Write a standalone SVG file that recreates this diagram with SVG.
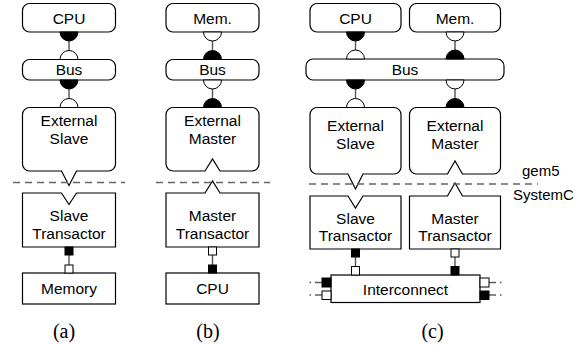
<svg xmlns="http://www.w3.org/2000/svg" width="586" height="345" viewBox="0 0 586 345">
<style>
.box{fill:#fff;stroke:#000;stroke-width:1.2}
.t{font-family:"Liberation Sans",Arial,sans-serif;font-size:15.5px;fill:#000;text-anchor:middle}
.side{font-family:"Liberation Sans",Arial,sans-serif;font-size:15px;fill:#000}
.cap{font-family:"Liberation Serif","Times New Roman",serif;font-size:20px;fill:#000;text-anchor:middle}
.wire{stroke:#555;stroke-width:1.4;fill:none}
.pf{fill:#000;stroke:#000;stroke-width:1}
.po{fill:#fff;stroke:#000;stroke-width:1}
.dash{stroke:#666;stroke-width:1.3;stroke-dasharray:7 5;fill:none}
</style>
<rect width="586" height="345" fill="#fff"/>

<!-- Panel (a) -->
<g id="a-cpu"><rect class="box" x="22.5" y="3.5" width="93" height="28.5" rx="7"/><text class="t" x="69" y="24">CPU</text></g>
<g id="a-bus"><rect class="box" x="22.5" y="59.5" width="93" height="20.5" rx="7"/><text class="t" x="69" y="75">Bus</text></g>
<g id="a-extslave"><path class="box" d="M29.5 107.5H108.5A7 7 0 0 1 115.5 114.5V164A7 7 0 0 1 108.5 171H76.5L69 185.5L61.5 171H29.5A7 7 0 0 1 22.5 164V114.5A7 7 0 0 1 29.5 107.5Z"/><text class="t" x="69" y="126">External</text><text class="t" x="69" y="144">Slave</text></g>
<g id="a-slavetrans"><path class="box" d="M22.5 193H61.5L69 204.5L76.5 193H115.5V247H22.5Z"/><text class="t" x="69" y="221">Slave</text><text class="t" x="69" y="239">Transactor</text></g>
<g id="a-memory"><rect class="box" x="22.5" y="273" width="93" height="31"/><text class="t" x="69" y="294">Memory</text></g>

<!-- Panel (b) -->
<g id="b-mem"><rect class="box" x="166" y="3.5" width="93" height="28.5" rx="7"/><text class="t" x="212.5" y="24">Mem.</text></g>
<g id="b-bus"><rect class="box" x="166" y="59.5" width="93" height="20.5" rx="7"/><text class="t" x="212.5" y="75">Bus</text></g>
<g id="b-extmaster"><path class="box" d="M173 107.5H252A7 7 0 0 1 259 114.5V164A7 7 0 0 1 252 171H220L212.5 159L205 171H173A7 7 0 0 1 166 164V114.5A7 7 0 0 1 173 107.5Z"/><text class="t" x="212.5" y="126">External</text><text class="t" x="212.5" y="144">Master</text></g>
<g id="b-mastertrans"><path class="box" d="M166 193H205L212.5 181L220 193H259V247H166Z"/><text class="t" x="212.5" y="221">Master</text><text class="t" x="212.5" y="239">Transactor</text></g>
<g id="b-cpu"><rect class="box" x="166" y="273" width="93" height="31"/><text class="t" x="212.5" y="294">CPU</text></g>

<!-- Panel (c) -->
<g id="c-cpu"><rect class="box" x="310" y="3.5" width="91" height="28.5" rx="7"/><text class="t" x="355.5" y="24">CPU</text></g>
<g id="c-mem"><rect class="box" x="409.5" y="3.5" width="91" height="28.5" rx="7"/><text class="t" x="455" y="24">Mem.</text></g>
<g id="c-bus"><rect class="box" x="306" y="59" width="198" height="21" rx="7"/><text class="t" x="405" y="75">Bus</text></g>
<g id="c-extslave"><path class="box" d="M317 107.5H394A7 7 0 0 1 401 114.5V167A7 7 0 0 1 394 174H363L355.5 189L348 174H317A7 7 0 0 1 310 167V114.5A7 7 0 0 1 317 107.5Z"/><text class="t" x="355.5" y="131">External</text><text class="t" x="355.5" y="149">Slave</text></g>
<g id="c-extmaster"><path class="box" d="M416.5 107.5H493.5A7 7 0 0 1 500.5 114.5V167A7 7 0 0 1 493.5 174H462.5L455 161L447.5 174H416.5A7 7 0 0 1 409.5 167V114.5A7 7 0 0 1 416.5 107.5Z"/><text class="t" x="455" y="131">External</text><text class="t" x="455" y="149">Master</text></g>
<g id="c-slavetrans"><path class="box" d="M310 196H348L355.5 208L363 196H401V249H310Z"/><text class="t" x="355.5" y="223.5">Slave</text><text class="t" x="355.5" y="241">Transactor</text></g>
<g id="c-mastertrans"><path class="box" d="M409.5 196H447.5L455 183L462.5 196H500.5V249H409.5Z"/><text class="t" x="455" y="223.5">Master</text><text class="t" x="455" y="241">Transactor</text></g>
<g id="c-interconnect"><rect class="box" x="331" y="275" width="149" height="27.5"/><text class="t" x="405.5" y="294.5">Interconnect</text></g>

<!-- Boundary -->
<g id="boundary">
<line class="dash" x1="13" y1="182.5" x2="125" y2="182.5"/>
<line class="dash" x1="156" y1="182.5" x2="270" y2="182.5"/>
<line class="dash" x1="309" y1="184" x2="538" y2="184"/>
<text class="side" x="522" y="176">gem5</text>
<text class="side" x="513" y="200">SystemC</text>
</g>

<!-- Connectors -->
<g id="connectors">
<!-- (a) -->
<line class="wire" x1="69" y1="41" x2="69" y2="50.5"/>
<line class="wire" x1="69" y1="89" x2="69" y2="98.5"/>
<path class="pf" d="M60 32A9 9 0 0 0 78 32Z"/>
<path class="po" d="M60 59.5A9 9 0 0 1 78 59.5Z"/>
<path class="pf" d="M60 80A9 9 0 0 0 78 80Z"/>
<path class="po" d="M60 107.5A9 9 0 0 1 78 107.5Z"/>
<line class="wire" x1="69" y1="255" x2="69" y2="265"/>
<rect class="pf" x="65" y="247" width="8" height="8"/>
<rect class="po" x="65" y="265" width="8" height="8"/>
<!-- (b) -->
<line class="wire" x1="212.5" y1="41" x2="212.5" y2="50.5"/>
<line class="wire" x1="212.5" y1="89" x2="212.5" y2="98.5"/>
<path class="po" d="M203.5 32A9 9 0 0 0 221.5 32Z"/>
<path class="pf" d="M203.5 59.5A9 9 0 0 1 221.5 59.5Z"/>
<path class="po" d="M203.5 80A9 9 0 0 0 221.5 80Z"/>
<path class="pf" d="M203.5 107.5A9 9 0 0 1 221.5 107.5Z"/>
<line class="wire" x1="212.5" y1="255" x2="212.5" y2="265"/>
<rect class="po" x="208.5" y="247" width="8" height="8"/>
<rect class="pf" x="208.5" y="265" width="8" height="8"/>
<!-- (c) -->
<line class="wire" x1="355.5" y1="41" x2="355.5" y2="50"/>
<line class="wire" x1="355.5" y1="89" x2="355.5" y2="98.5"/>
<path class="pf" d="M346.5 32A9 9 0 0 0 364.5 32Z"/>
<path class="po" d="M346.5 59A9 9 0 0 1 364.5 59Z"/>
<path class="pf" d="M346.5 80A9 9 0 0 0 364.5 80Z"/>
<path class="po" d="M346.5 107.5A9 9 0 0 1 364.5 107.5Z"/>
<line class="wire" x1="455" y1="41" x2="455" y2="50"/>
<line class="wire" x1="455" y1="89" x2="455" y2="98.5"/>
<path class="po" d="M446 32A9 9 0 0 0 464 32Z"/>
<path class="pf" d="M446 59A9 9 0 0 1 464 59Z"/>
<path class="po" d="M446 80A9 9 0 0 0 464 80Z"/>
<path class="pf" d="M446 107.5A9 9 0 0 1 464 107.5Z"/>
<line class="wire" x1="355.5" y1="257" x2="355.5" y2="266.5"/>
<rect class="pf" x="351.5" y="249" width="8" height="8"/>
<rect class="po" x="351.5" y="266.5" width="8" height="8.5"/>
<line class="wire" x1="455" y1="257" x2="455" y2="266.5"/>
<rect class="po" x="451" y="249" width="8" height="8"/>
<rect class="pf" x="451" y="266.5" width="8" height="8.5"/>
<!-- interconnect side ports -->
<line class="wire" x1="315" y1="282.5" x2="322" y2="282.5"/>
<line class="wire" x1="315" y1="295" x2="322" y2="295"/>
<line class="wire" x1="309.5" y1="282.5" x2="311" y2="282.5"/>
<line class="wire" x1="309.5" y1="295" x2="311" y2="295"/>
<rect class="pf" x="322" y="278" width="9" height="9"/>
<rect class="po" x="322" y="291" width="9" height="8.5"/>
<line class="wire" x1="489" y1="282.5" x2="496" y2="282.5"/>
<line class="wire" x1="489" y1="295" x2="496" y2="295"/>
<line class="wire" x1="500" y1="282.5" x2="501.5" y2="282.5"/>
<line class="wire" x1="500" y1="295" x2="501.5" y2="295"/>
<rect class="po" x="480" y="278" width="9" height="9"/>
<rect class="pf" x="480" y="291" width="9" height="8.5"/>
</g>

<!-- Captions -->
<text class="cap" x="64" y="338">(a)</text>
<text class="cap" x="208" y="338">(b)</text>
<text class="cap" x="432.5" y="338">(c)</text>
</svg>
